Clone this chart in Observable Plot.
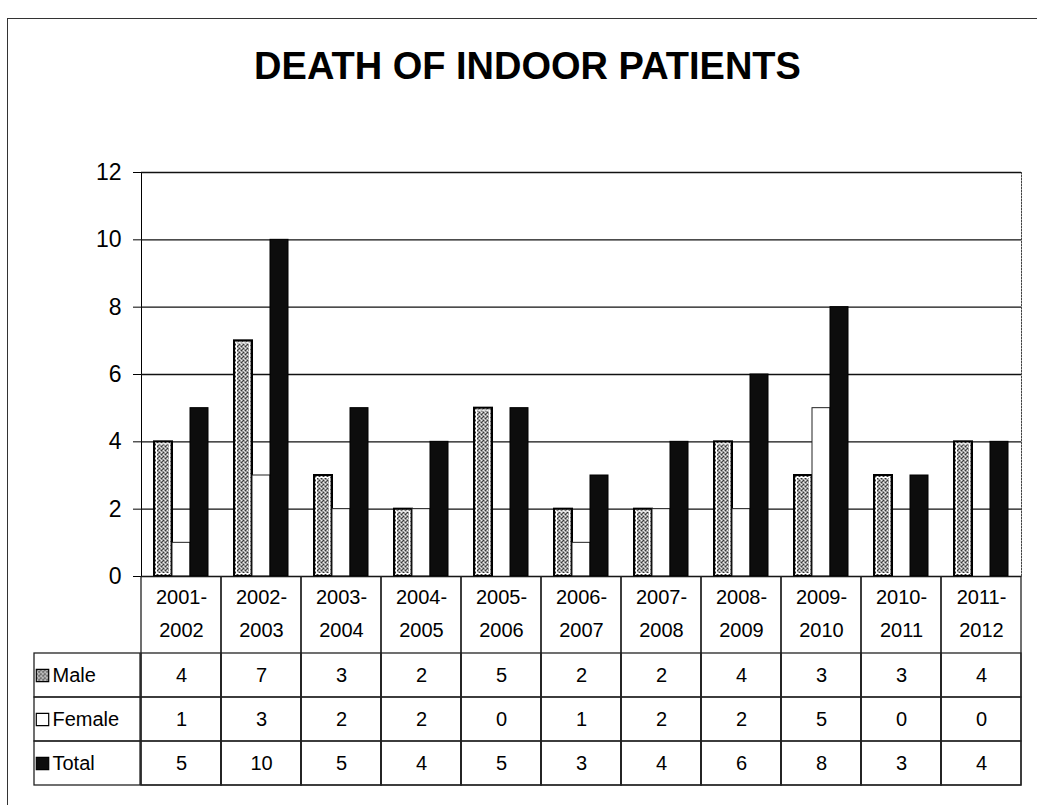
<!DOCTYPE html>
<html><head><meta charset="utf-8">
<script src="https://cdn.jsdelivr.net/npm/d3@7"></script>
<script src="https://cdn.jsdelivr.net/npm/@observablehq/plot@0.6"></script>
<style>
body{margin:0;background:#fff;width:1037px;height:805px;position:relative;overflow:hidden;font-family:"Liberation Sans",Arial,sans-serif;}
#frame{position:absolute;left:7px;top:18px;width:1040px;height:800px;border-left:1.5px solid #333;border-top:1.5px solid #333;}
#title{position:absolute;left:9px;top:40px;width:1037px;text-align:center;font-weight:bold;font-size:38px;line-height:52px;color:#000;}
#chart{position:absolute;left:0;top:130px;}
#table{position:absolute;left:0;top:576px;}
svg{display:block}
</style></head><body>
<div id="frame"></div>
<div id="title">DEATH OF INDOOR PATIENTS</div>
<div id="chart"></div>
<div id="table"></div>
<script>
const years = ["2001-2002","2002-2003","2003-2004","2004-2005","2005-2006","2006-2007","2007-2008","2008-2009","2009-2010","2010-2011","2011-2012"];
const seriesNames = ["Male","Female","Total"];
const male   = [4,7,3,2,5,2,2,4,3,3,4];
const female = [1,3,2,2,0,1,2,2,5,0,0];
const total  = [5,10,5,4,5,3,4,6,8,3,4];
const yTicks = [0,2,4,6,8,10,12];

const valuesBySeries = {Male: male, Female: female, Total: total};
const rows = [];
seriesNames.forEach(s => years.forEach((y, i) => rows.push({year: y, series: s, value: valuesBySeries[s][i]})));
const bySeries = s => rows.filter(d => d.series === s);

const fills = {Male: "url(#malePat)", Female: "#ffffff", Total: "#0d0d0d"};

const chart = Plot.plot({
  width: 1037, height: 468,
  marginTop: 42, marginBottom: 22, marginLeft: 136, marginRight: 12,
  style: {fontFamily: "Liberation Sans, Arial, sans-serif", fontSize: "23px", background: "transparent", color: "#000"},
  fx: {domain: years, padding: 0, axis: null},
  x: {domain: seriesNames, paddingInner: 0, paddingOuter: 0.63, axis: null},
  y: {domain: [0, 12], ticks: yTicks, tickSize: 8, tickPadding: 12, line: true, label: null},
  marks: [
    Plot.ruleY(yTicks.filter(t => t > 0), {stroke: "#111", strokeWidth: 1.3}),
    Plot.barY(bySeries("Male"), {fx: "year", x: "series", y: "value", fill: fills.Male, stroke: "#000", strokeWidth: 2}),
    Plot.barY(bySeries("Male"), {fx: "year", x: "series", y: "value", fill: "none", stroke: "#fff", strokeWidth: 1, inset: 2.5}),
    Plot.barY(bySeries("Female"), {fx: "year", x: "series", y: "value", fill: fills.Female, stroke: "#222", strokeWidth: 1}),
    Plot.barY(bySeries("Total"), {fx: "year", x: "series", y: "value", fill: fills.Total, stroke: "#000", strokeWidth: 1}),
    Plot.ruleY([0], {stroke: "#000", strokeWidth: 1.6}),
    Plot.frame({anchor: "right", facetAnchor: "right", stroke: "#444", strokeDasharray: "1.5,1.5"})
  ]
});
document.getElementById("chart").appendChild(chart);

const defs = d3.select(chart).insert("defs", ":first-child");
const p = defs.append("pattern").attr("id", "malePat").attr("width", 4).attr("height", 4).attr("patternUnits", "userSpaceOnUse");
p.append("rect").attr("width", 4).attr("height", 4).attr("fill", "#9a9a9a");
[[0,0,"#333"],[2,2,"#333"],[2,0,"#eee"],[0,2,"#eee"],[1,3,"#555"],[3,1,"#ccc"]].forEach(([x,y,c]) =>
  p.append("rect").attr("x", x).attr("y", y).attr("width", 1).attr("height", 1).attr("fill", c));

const table = Plot.plot({
  width: 1037, height: 212,
  marginTop: 77, marginBottom: 3, marginLeft: 136, marginRight: 12,
  style: {fontFamily: "Liberation Sans, Arial, sans-serif", fontSize: "20px", background: "transparent", color: "#000"},
  x: {domain: years, padding: 0, axis: null},
  y: {domain: seriesNames, padding: 0, axis: null},
  marks: [
    Plot.cell(years, {x: d => d, fill: "none", stroke: "#222", strokeWidth: 1.3, insetTop: -77}),
    Plot.cell(rows, {x: "year", y: "series", fill: "none", stroke: "#222", strokeWidth: 1.3}),
    Plot.cell(seriesNames, {x: () => years[0], y: d => d, dx: -81, insetLeft: -26, fill: "none", stroke: "#222", strokeWidth: 1.3}),
    Plot.text(years, {x: d => d, frameAnchor: "top", dy: -64, text: d => d.split("-")[0] + "-", fontSize: 20}),
    Plot.text(years, {x: d => d, frameAnchor: "top", dy: -31, text: d => d.split("-")[1], fontSize: 20}),
    Plot.text(rows, {x: "year", y: "series", text: "value", fontSize: 20}),
    Plot.dot(["Male"], {y: d => d, frameAnchor: "left", dx: -94, symbol: "square", r: 7, fill: fills.Male, stroke: "#000", strokeWidth: 1.2}),
    Plot.dot(["Female"], {y: d => d, frameAnchor: "left", dx: -94, symbol: "square", r: 7, fill: fills.Female, stroke: "#000", strokeWidth: 1.2}),
    Plot.dot(["Total"], {y: d => d, frameAnchor: "left", dx: -94, symbol: "square", r: 7, fill: fills.Total, stroke: "#000", strokeWidth: 1.2}),
    Plot.text(seriesNames, {y: d => d, frameAnchor: "left", dx: -84, textAnchor: "start", text: d => d, fontSize: 20})
  ]
});
document.getElementById("table").appendChild(table);
</script>
</body></html>
